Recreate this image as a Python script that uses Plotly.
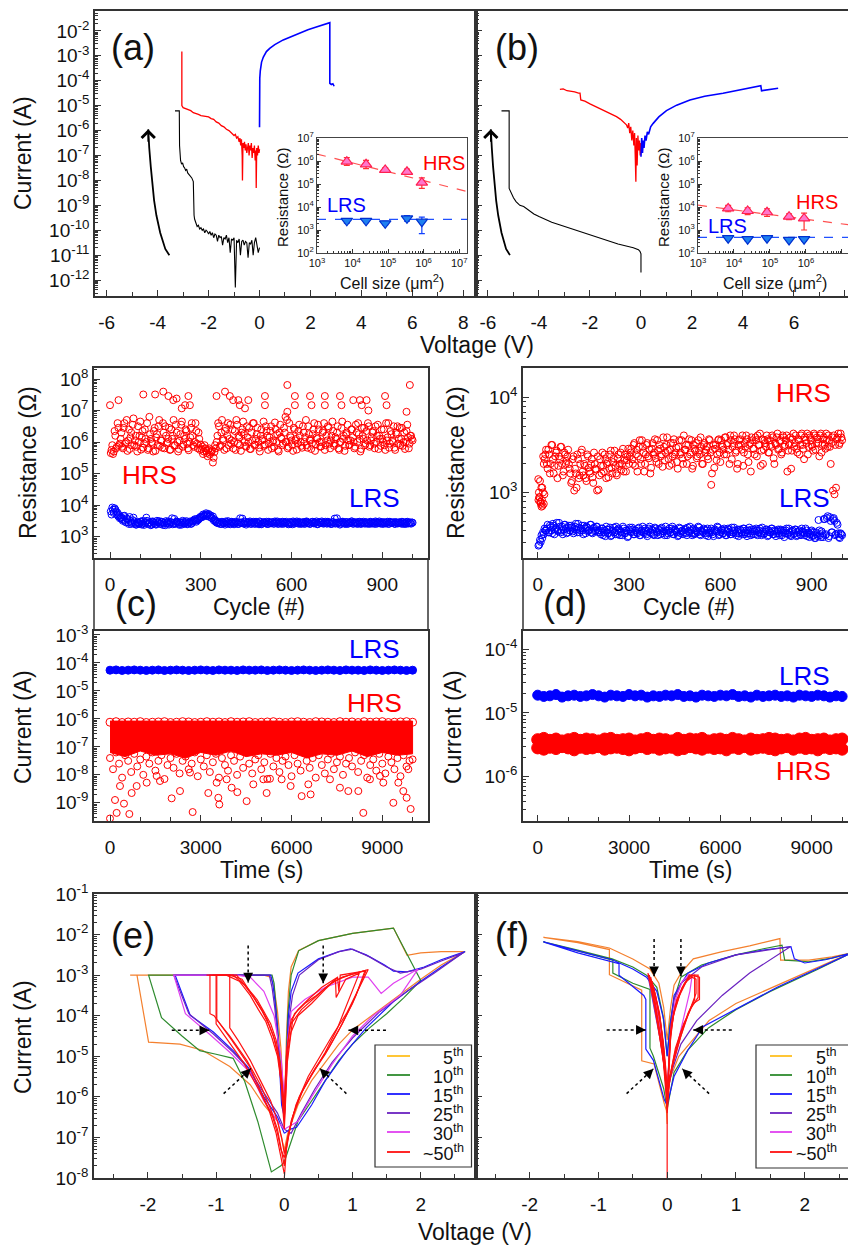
import numpy as np
import plotly.graph_objects as go

W, H = 848, 1245
FONT = "Liberation Sans, Arial, Helvetica, sans-serif"

# ---------------- DATA ----------------
# (a) I-V, (V, log10 I)
A_black = [(-3.32,-5.21),(-3.15,-5.21),(-3.14,-6.6),(-3.1,-7.2),(-3.06,-7.35),(-3.02,-7.3),(-2.98,-7.45),(-2.94,-7.5),
           (-2.9,-7.6),(-2.86,-7.55),(-2.82,-7.7),(-2.78,-7.75),(-2.74,-7.8),(-2.7,-7.85),(-2.66,-7.9),(-2.62,-8.0),
           (-2.6,-8.05),(-2.57,-9.4),(-2.55,-9.55),(-2.5,-9.7),(-2.45,-9.85),(-2.4,-9.8),(-2.35,-9.95),(-2.3,-9.9),
           (-2.25,-10.0),(-2.2,-9.95),(-2.15,-10.1),(-2.1,-10.0),(-2.05,-10.05),(-2.0,-10.15),(-1.95,-10.05),(-1.9,-10.2),
           (-1.85,-10.1),(-1.8,-10.3),(-1.75,-10.15),(-1.7,-10.2),(-1.65,-10.45),(-1.6,-10.2),(-1.55,-10.3),(-1.5,-10.25),
           (-1.45,-10.6),(-1.4,-10.3),(-1.35,-10.35),(-1.3,-10.2),(-1.25,-10.5),(-1.2,-10.3),(-1.15,-10.9),(-1.1,-10.35),
           (-1.05,-10.4),(-1.0,-10.3),(-0.95,-12.3),(-0.9,-10.4),(-0.85,-10.5),(-0.8,-10.35),(-0.75,-11.0),(-0.7,-10.45),
           (-0.65,-10.4),(-0.6,-10.6),(-0.55,-10.45),(-0.5,-10.5),(-0.45,-11.1),(-0.4,-10.5),(-0.35,-10.55),(-0.3,-10.4),
           (-0.25,-11.0),(-0.2,-10.5),(-0.15,-10.3),(-0.1,-10.6),(-0.05,-10.9),(0.0,-10.7)]
A_red = [(-3.05,-2.83),(-3.05,-5.0),(-3.0,-5.08),(-2.9,-5.12),(-2.8,-5.15),(-2.7,-5.2),(-2.6,-5.28),(-2.5,-5.3),
         (-2.4,-5.35),(-2.3,-5.4),(-2.2,-5.42),(-2.1,-5.45),(-2.0,-5.45),(-1.9,-5.52),(-1.8,-5.55),(-1.7,-5.65),
         (-1.6,-5.7),(-1.5,-5.8),(-1.4,-5.85),(-1.3,-5.95),(-1.2,-6.0),(-1.1,-6.1),(-1.0,-6.2),(-0.95,-6.15),
         (-0.9,-6.3),(-0.85,-6.25),(-0.8,-6.45),(-0.77,-6.3),(-0.74,-6.6),(-0.71,-6.35),(-0.68,-7.0),(-0.67,-8.0),
         (-0.65,-6.5),(-0.62,-6.7),(-0.59,-6.45),(-0.56,-6.8),(-0.53,-6.55),(-0.5,-6.9),(-0.47,-6.6),(-0.44,-6.5),
         (-0.41,-7.0),(-0.38,-6.6),(-0.35,-6.8),(-0.32,-6.5),(-0.29,-7.1),(-0.26,-6.7),(-0.23,-6.9),(-0.2,-6.6),
         (-0.17,-7.2),(-0.14,-6.8),(-0.13,-8.3),(-0.11,-6.7),(-0.08,-7.0),(-0.05,-6.6),(-0.02,-6.9),(0.0,-6.75)]
A_blue = [(0.0,-5.87),(0.0,-4.6),(0.01,-3.9),(0.03,-3.6),(0.08,-3.25),(0.15,-3.05),(0.27,-2.83),(0.4,-2.7),
          (0.6,-2.55),(0.93,-2.36),(1.25,-2.22),(1.58,-2.09),(1.9,-1.95),(2.2,-1.85),(2.5,-1.76),(2.76,-1.67),
          (2.76,-4.1),(2.82,-4.15),(2.88,-4.12),(2.93,-4.22)]
A_arrow = [(-3.54,-11.0),(-3.7,-10.75),(-3.9,-10.1),(-4.05,-9.4),(-4.14,-8.8),(-4.22,-8.1),(-4.27,-7.45),(-4.33,-6.7),(-4.37,-5.95)]

# (b) I-V
B_black = [(-5.47,-5.21),(-5.17,-5.21),(-5.17,-8.32),(-5.1,-8.5),(-5.0,-8.7),(-4.9,-8.85),(-4.75,-9.0),(-4.6,-9.05),
           (-4.4,-9.2),(-4.2,-9.35),(-4.0,-9.45),(-3.8,-9.55),(-3.5,-9.68),(-3.2,-9.78),(-3.0,-9.85),(-2.7,-9.95),
           (-2.4,-10.05),(-2.13,-10.13),(-1.8,-10.25),(-1.5,-10.35),(-1.2,-10.45),(-0.9,-10.55),(-0.6,-10.62),
           (-0.3,-10.7),(-0.1,-10.78),(-0.04,-10.85),(0.0,-10.95),(0.0,-11.7)]
B_red = [(-3.18,-4.35),(-3.05,-4.33),(-2.9,-4.4),(-2.75,-4.42),(-2.6,-4.45),(-2.45,-4.5),(-2.39,-4.5),(-2.36,-4.77),
         (-2.2,-4.82),(-2.0,-4.93),(-1.74,-5.06),(-1.5,-5.17),(-1.2,-5.3),(-0.96,-5.44),(-0.8,-5.55),(-0.65,-5.68),
         (-0.57,-5.77),(-0.52,-5.9),(-0.48,-5.7),(-0.44,-6.1),(-0.4,-5.85),(-0.36,-6.4),(-0.32,-6.0),(-0.28,-6.6),
         (-0.25,-6.1),(-0.22,-7.2),(-0.2,-8.05),(-0.18,-6.3),(-0.15,-7.4),(-0.12,-6.2),(-0.09,-6.8),(-0.06,-6.4),
         (-0.03,-7.0),(0.0,-6.5)]
B_blue = [(0.0,-7.05),(0.03,-6.3),(0.06,-6.9),(0.09,-6.4),(0.12,-6.7),(0.16,-6.2),(0.2,-6.4),(0.25,-6.05),
          (0.3,-6.15),(0.38,-5.85),(0.48,-5.71),(0.7,-5.45),(1.0,-5.2),(1.4,-4.98),(1.92,-4.77),(2.5,-4.62),
          (3.22,-4.5),(3.9,-4.35),(4.4,-4.27),(4.7,-4.2),(4.73,-4.4),(5.0,-4.36),(5.38,-4.3)]
B_arrow = [(-5.14,-11.0),(-5.29,-10.75),(-5.47,-10.1),(-5.6,-9.4),(-5.68,-8.8),(-5.75,-8.1),(-5.8,-7.45),(-5.85,-6.7),(-5.89,-5.95)]

# insets: resistance vs cell size
cell_size = [6.9e3, 2.4e4, 8.3e4, 3.4e5, 8.9e5]
A_HRS_R = [9.4e5, 7.2e5, 4.1e5, 3.4e5, 1.15e5]
A_HRS_ep = [4.5e5, 3.5e5, 1.0e5, 1.0e5, 7.0e4]
A_HRS_em = [3.0e5, 2.5e5, 8.0e4, 8.0e4, 5.0e4]
A_LRS_R = [2.5e3, 2.5e3, 1.95e3, 3.2e3, 2.3e3]
A_LRS_ep = [6e2, 5e2, 4e2, 1.0e3, 1.3e3]
A_LRS_em = [5e2, 4e2, 3e2, 8e2, 1.6e3]
A_fit_x = [1e3, 1.7e7]
A_HRS_fit = [2.0e6, 4.7e4]
A_LRS_fit = [2.9e3, 2.9e3]
B_HRS_R = [8.7e3, 6.7e3, 5.9e3, 3.8e3, 3.2e3]
B_HRS_ep = [3.0e3, 2.5e3, 2.5e3, 1.2e3, 2.2e3]
B_HRS_em = [2.5e3, 2.0e3, 2.0e3, 1.0e3, 2.2e3]
B_LRS_R = [440, 400, 440, 370, 400]
B_LRS_ep = [80, 70, 80, 60, 70]
B_LRS_em = [70, 60, 70, 50, 60]
B_HRS_fit = [1.2e4, 1.65e3]
B_LRS_fit = [480, 480]

# (c) endurance, log10 R (series 1 at cycles 5,10,...; series 2 at 2.5,7.5,...)
C_HRS_R = [5.75,5.62,6.35,5.8,6.6,5.9,
 6.1,5.85,6.45,5.95,6.7,6.05,5.78,6.3,6.55,5.9,6.2,5.7,6.0,6.65,6.15,5.82,6.4,6.0,5.75,6.8,6.1,5.95,6.35,5.72,
 6.25,6.5,5.88,6.05,6.6,5.8,6.2,6.0,6.45,5.76,6.1,6.7,5.9,6.3,5.7,6.05,6.55,5.85,6.2,6.4,5.95,5.74,6.15,6.6,
 5.9,6.0,6.35,5.8,6.1,5.92,
 5.85,5.7,5.8,5.65,5.75,5.6,5.7,5.35,5.68,5.8,
 6.2,6.5,5.9,6.7,6.05,6.35,5.8,6.6,6.1,5.95, 6.4,6.0,5.75,6.55,6.2,5.9,6.3,6.65,6.0,5.85,
 6.15,6.45,5.78,6.05,6.6,5.92,6.25,6.0,5.7,6.4, 6.1,5.88,6.5,6.2,5.95,6.35,5.8,6.05,6.62,6.0,
 5.75,6.3,6.15,5.9,6.45,6.0,6.7,5.85,6.2,6.05, 5.72,6.4,6.1,5.95,6.55,6.0,5.82,6.3,6.15,5.9,
 6.5,6.05,5.78,6.25,6.6,5.92,6.1,6.4,5.85,6.0, 6.35,5.75,6.2,6.5,5.95,6.05,6.65,5.88,6.15,6.3,
 5.8,6.0,6.45,6.1,5.72,6.25,6.55,5.9,6.05,6.4, 6.0,5.85,6.3,6.6,6.1,5.78,6.2,6.45,5.95,6.05,
 6.5,5.9,6.15,6.35,5.8,6.0,6.55,6.2,5.88,6.1, 6.4,5.75,6.05,6.6,5.95,6.25,6.0,5.82,6.3,6.5,
 6.1,5.9,6.45,6.0,5.78,6.35,6.15,5.95,6.2,6.05]
C_HRS_R2 = [5.65,5.9,5.7,6.2,5.85,6.45,
 5.95,6.3,5.8,6.6,6.0,5.72,6.4,6.15,5.9,6.75,6.05,5.85,6.5,6.2,5.76,6.35,5.95,6.1,6.6,5.8,6.25,6.0,5.7,6.45,
 6.15,5.9,6.7,6.05,5.82,6.3,6.5,5.95,6.1,5.75,6.4,6.2,5.88,6.55,6.0,5.78,6.25,6.65,5.92,6.1,6.35,5.8,6.0,6.45,
 6.2,5.85,6.6,5.95,6.3,5.75,
 5.78,5.62,5.9,5.72,5.55,5.8,5.66,5.74,5.5,5.9,
 6.0,6.6,5.85,6.3,6.1,5.75,6.45,6.2,5.9,6.55, 6.05,5.8,6.35,6.7,5.95,6.15,5.72,6.4,6.25,5.88,
 6.5,6.0,5.78,6.3,6.6,5.9,6.1,6.45,5.82,6.2, 6.05,6.65,5.92,6.35,5.75,6.15,6.5,6.0,5.85,6.4,
 6.25,5.7,6.55,6.1,5.95,6.3,6.0,5.8,6.6,6.15, 5.9,6.45,6.05,5.76,6.35,6.2,5.88,6.5,6.0,6.7,
 5.82,6.25,6.1,5.95,6.4,5.72,6.15,6.55,6.0,5.86, 6.3,6.6,5.9,6.05,6.45,5.8,6.2,6.35,5.95,6.1,
 6.5,5.75,6.0,6.65,6.2,5.88,6.3,6.05,5.92,6.4, 6.15,5.8,6.55,6.0,6.25,5.7,6.45,6.1,5.9,6.35,
 6.6,5.85,6.05,6.3,5.95,6.5,6.2,5.78,6.1,6.4, 6.0,5.9,6.6,6.15,5.82,6.35,6.05,6.5,5.75,6.25,
 5.95,6.45,6.1,5.88,6.3,6.0,6.55,5.8,6.2,6.1]
C_HRS_out = [(0,7.17),(28,7.33),(110,7.51),(149,7.51),(176,7.6),(193,7.46),(209,7.33),(220,7.38),(237,7.07),
             (248,7.17),(259,7.46),(264,7.17),(352,7.46),(380,7.6),(396,7.46),(407,7.33),(424,7.33),(429,7.17),
             (446,7.07),(457,7.33),(512,7.46),(512,7.17),(586,7.81),(611,7.46),(611,7.17),(661,7.46),(666,7.17),
             (710,7.46),(710,7.17),(760,7.46),(765,7.17),(804,7.33),(826,7.33),(832,7.17),(848,7.33),(854,7.0),
             (909,7.46),(914,7.17),(991,7.81),(980,6.96),(586,6.96),(580,6.8)]
C_LRS_R = [3.7,3.85,3.9,3.8,3.75,3.68,
 3.6,3.55,3.65,3.5,3.58,3.45,3.62,3.4,3.52,3.48,3.38,3.45,
 3.42,3.47,3.38,3.5,3.44,3.6,3.4,3.46,3.36,3.48,3.43,3.39,3.5,3.45,3.41,3.47,3.37,3.44,3.49,3.42,3.38,
 3.46,3.58,3.43,3.4,3.48,3.44,3.37,3.45,3.5,3.41,3.46,3.39,3.44,3.48,3.42,3.5,3.55,3.47,3.52,3.58,3.6,
 3.62,3.66,3.7,3.65,3.72,3.68,3.6,3.64,3.55,3.5,3.46,
 3.44,3.4,3.47,3.42,3.38,3.45,3.49,3.41,3.46,3.43, 3.39,3.47,3.44,3.4,3.58,3.45,3.42,3.48,3.38,3.44,
 3.46,3.41,3.43,3.47,3.4,3.45,3.42,3.48,3.39,3.44, 3.46,3.42,3.4,3.47,3.43,3.45,3.41,3.48,3.44,3.4,
 3.46,3.43,3.47,3.41,3.45,3.42,3.39,3.46,3.44,3.48, 3.41,3.45,3.43,3.47,3.4,3.44,3.46,3.42,3.48,3.43,
 3.4,3.45,3.47,3.42,3.44,3.39,3.46,3.43,3.48,3.41, 3.45,3.42,3.47,3.44,3.4,3.46,3.43,3.41,3.58,3.45,
 3.38,3.44,3.47,3.42,3.46,3.4,3.45,3.43,3.48,3.41, 3.44,3.46,3.42,3.47,3.4,3.45,3.43,3.46,3.41,3.44,
 3.47,3.42,3.45,3.4,3.46,3.43,3.48,3.41,3.44,3.46, 3.42,3.45,3.4,3.47,3.43,3.44,3.41,3.46,3.42,3.45,
 3.43,3.47,3.4,3.44,3.46,3.42,3.45,3.41,3.44]
C_LRS_R2 = [3.8,3.92,3.75,3.86,3.7,3.64,
 3.58,3.62,3.5,3.66,3.45,3.55,3.4,3.5,3.44,3.6,3.42,3.38,
 3.45,3.4,3.48,3.42,3.37,3.46,3.5,3.41,3.44,3.39,3.47,3.43,3.38,3.45,3.49,3.4,3.46,3.42,3.36,3.44,3.48,
 3.41,3.45,3.39,3.56,3.43,3.47,3.4,3.44,3.38,3.46,3.42,3.49,3.41,3.45,3.4,3.47,3.52,3.5,3.56,3.54,3.62,
 3.64,3.7,3.66,3.74,3.69,3.63,3.67,3.58,3.52,3.48,3.44,
 3.42,3.46,3.4,3.45,3.43,3.48,3.41,3.44,3.39,3.47, 3.44,3.42,3.46,3.4,3.45,3.43,3.57,3.41,3.46,3.42,
 3.44,3.48,3.4,3.45,3.42,3.47,3.43,3.39,3.46,3.41, 3.45,3.43,3.47,3.4,3.44,3.42,3.46,3.41,3.45,3.48,
 3.42,3.44,3.4,3.46,3.43,3.47,3.41,3.45,3.42,3.39, 3.46,3.43,3.48,3.41,3.44,3.42,3.45,3.4,3.47,3.43,
 3.44,3.41,3.46,3.42,3.45,3.48,3.4,3.44,3.43,3.46, 3.42,3.47,3.41,3.45,3.43,3.4,3.46,3.57,3.44,3.42,
 3.45,3.41,3.47,3.43,3.4,3.46,3.42,3.44,3.48,3.41, 3.45,3.43,3.4,3.46,3.42,3.44,3.47,3.41,3.45,3.43,
 3.4,3.46,3.42,3.44,3.48,3.41,3.45,3.43,3.46,3.4, 3.44,3.42,3.47,3.41,3.45,3.43,3.46,3.4,3.44,3.42,
 3.45,3.41,3.46,3.43,3.4,3.47,3.42,3.44,3.45]

# (c) retention, log10 I
C_LRS_I = [-4.26,-4.25,-4.27,-4.26,-4.25,-4.26,-4.27,-4.26,-4.25,-4.27,-4.26,-4.25,-4.26,-4.27,-4.26,-4.25,-4.26,
 -4.27,-4.25,-4.26,-4.26,-4.27,-4.25,-4.26,-4.26,-4.25,-4.27,-4.26,-4.25,-4.26,-4.27,-4.26,-4.25,-4.26,-4.27,
 -4.26,-4.25,-4.26,-4.27,-4.25,-4.26,-4.26,-4.27,-4.25,-4.26,-4.27,-4.26,-4.25,-4.26,-4.27,-4.26]
C_env_t = [0,500,1000,1500,2000,2500,3000,3500,4000,4500,5000,5500,6000,6500,7000,7500,8000,8500,9000,9500,10000]
C_HRS_top = [-6.08,-6.09,-6.08,-6.08,-6.09,-6.08,-6.08,-6.09,-6.08,-6.08,-6.09,-6.08,-6.08,-6.09,-6.08,-6.08,-6.09,
 -6.08,-6.08,-6.09,-6.08]
C_HRS_bot = [-7.2,-7.35,-7.15,-7.3,-7.25,-7.4,-7.2,-7.3,-7.15,-7.35,-7.25,-7.3,-7.2,-7.4,-7.25,-7.3,-7.15,-7.35,
 -7.2,-7.3,-7.25]
C_HRS_edge = [-6.12,-6.1,-6.13,-6.11,-6.12,-6.1,-6.13,-6.12,-6.11,-6.1,-6.13,-6.12,-6.1,-6.11,-6.13,-6.12,-6.1,-6.12,
 -6.11,-6.13,-6.1,-6.12,-6.11,-6.1,-6.13,-6.12,-6.11,-6.1,-6.12,-6.13,-6.11,-6.1,-6.12,-6.13,-6.1,-6.11,-6.12,
 -6.13,-6.1,-6.12,-6.11,-6.13,-6.1,-6.12,-6.11,-6.1,-6.13,-6.12,-6.11,-6.1,-6.12]
C_HRS_low = [-7.4,-7.8,-7.2,-7.6,-8.1,-7.3,-7.5,-7.9,-7.25,-7.7, -7.45,-8.0,-7.35,-7.6,-7.2,-7.85,-7.5,-7.3,-8.15,-7.65,
 -7.4,-7.75,-7.25,-7.95,-7.5,-7.35,-7.8,-7.6,-7.2,-8.05, -7.45,-7.7,-7.3,-7.9,-7.55,-7.25,-8.1,-7.4,-7.65,-7.85,
 -7.3,-7.5,-8.0,-7.35,-7.75,-7.2,-7.6,-7.95,-7.45,-7.3, -7.8,-7.55,-8.15,-7.25,-7.7,-7.4,-7.9,-7.5,-7.35,-7.65,
 -8.05,-7.3,-7.6,-7.85,-7.2,-7.5,-7.75,-7.4,-8.1,-7.3, -7.65,-7.95,-7.45,-7.25,-7.8,-7.55,-7.35,-8.0,-7.6,-7.4,
 -7.7,-7.2,-7.9,-7.5,-7.3,-8.1,-7.65,-7.45,-7.85,-7.25, -7.6,-7.95,-7.35,-7.55,-7.8,-7.4,-8.05,-7.3,-7.7,-7.5,-7.45]
C_HRS_rare = [(0,-9.56),(220,-9.36),(165,-8.9),(462,-9.03),(639,-9.4),(716,-8.65),(881,-8.4),(330,-8.4),(1212,-8.28),
 (1542,-8.04),(1652,-8.22),(2038,-8.84),(2313,-8.58),(2731,-9.33),(2643,-7.92),(3249,-8.65),(3525,-8.28),
 (3580,-8.82),(3613,-9.06),(3855,-8.16),(4020,-8.46),(4208,-8.62),(4516,-8.94),(4736,-8.34),(5067,-8.16),
 (5177,-8.65),(5287,-8.14),(5673,-8.16),(5970,-8.4),(6334,-8.76),(6554,-8.34),(6631,-8.7),(7270,-8.16),
 (7600,-8.46),(7876,-8.58),(8207,-8.58),(8372,-9.36),(8592,-8.16),(8923,-8.04),(9033,-8.28),(9364,-9.0),
 (9694,-8.58),(9804,-8.82),(9937,-9.22),(9529,-8.28),(9860,-7.8)]

# (d) endurance, log10 R
D_HRS_R = [2.95,2.9,3.05,2.88,
 3.4,3.3,3.45,3.2,3.5,3.35,3.28,3.42,3.15,3.38,3.48,3.3,3.22,3.4,3.33,3.45,
 3.25,3.1,3.35,3.02,3.2,3.4,3.15,3.3,3.45,3.18,3.28,3.12,3.38,3.22,3.3,3.16,3.42,3.25,3.02,3.03,
 3.35,3.2,3.28,3.4,3.15,3.32,3.25,3.44,3.2,3.36,3.28,3.18,3.4,3.3,3.24,3.46,3.34,3.22,3.38,3.3,
 3.42,3.35,3.5,3.28,3.45,3.38,3.55,3.3,3.48,3.22,3.4,3.52,3.36,3.2,3.46,3.4,3.56,3.32,3.44,3.5,
 3.38,3.27,3.48,3.42,3.58,3.35,3.45,3.3,3.52,3.4,3.47,3.25,3.55,3.42,3.36,3.6,3.45,3.3,3.5,3.4,
 3.55,3.28,3.46,3.52,3.38,3.44,3.58,3.3,3.5,3.42,3.48,3.35,3.55,3.08,3.45,3.26,3.5,3.4,3.56,3.32,
 3.5,3.45,3.58,3.4,3.52,3.3,3.55,3.48,3.6,3.42,3.25,3.5,3.56,3.45,3.28,3.52,3.6,3.4,3.5,3.22,
 3.55,3.46,3.58,3.38,3.5,3.62,3.44,3.3,3.55,3.48,3.56,3.42,3.5,3.6,3.36,3.52,3.58,3.45,3.54,3.4,
 3.6,3.48,3.55,3.22,3.5,3.58,3.44,3.62,3.52,3.46,3.56,3.4,3.6,3.5,3.35,3.55,3.62,3.48,3.58,3.5,
 3.44,3.6,3.52,3.56,3.38,3.62,3.5,3.58,3.46,3.55,3.6,3.48,3.52,3.02,2.98,3.05,3.58,3.5,3.62,3.55]
D_HRS_R2 = [2.92,3.12,2.85,3.0,
 3.35,3.45,3.25,3.4,3.3,3.5,3.2,3.38,3.44,3.28,3.35,3.48,3.18,3.42,3.3,3.38,
 3.3,3.2,3.12,3.38,3.25,3.05,3.35,3.18,3.42,3.22,3.3,3.15,3.4,3.26,3.2,3.35,3.1,3.3,3.24,3.38,
 3.18,3.28,3.42,3.22,3.35,3.3,3.16,3.4,3.26,3.32,3.44,3.2,3.36,3.28,3.42,3.3,3.22,3.4,3.34,3.46,
 3.38,3.46,3.3,3.52,3.4,3.22,3.48,3.35,3.55,3.42,3.3,3.5,3.38,3.45,3.26,3.52,3.42,3.36,3.55,3.3,
 3.46,3.4,3.58,3.34,3.5,3.44,3.28,3.52,3.38,3.56,3.42,3.32,3.48,3.4,3.55,3.3,3.45,3.5,3.38,3.56,
 3.42,3.25,3.5,3.44,3.36,3.55,3.4,3.48,3.3,3.52,3.45,3.38,3.56,3.42,3.2,3.5,3.46,3.34,3.55,3.42,
 3.55,3.48,3.4,3.58,3.5,3.45,3.6,3.35,3.52,3.56,3.44,3.3,3.55,3.5,3.6,3.42,3.48,3.56,3.32,3.52,
 3.58,3.46,3.4,3.55,3.6,3.5,3.28,3.56,3.45,3.52,3.6,3.42,3.55,3.48,3.58,3.3,3.5,3.62,3.46,3.55,
 3.42,3.58,3.5,3.6,3.44,3.52,3.25,3.56,3.48,3.6,3.42,3.55,3.5,3.62,3.46,3.58,3.52,3.4,3.6,3.55,
 3.48,3.62,3.45,3.58,3.52,3.6,3.42,3.56,3.5,3.62,3.48,3.55,3.3,3.58,3.6,3.5,3.56,3.62,3.52,3.58]
D_HRS_early = [(2,3.14),(4,3.0),(6,2.95),(8,2.9),(10,2.88),(12,3.05),(14,2.92),(16,2.86),(18,3.38),(20,3.3),(22,2.98)]
D_LRS_R = [2.45,2.48,2.52,2.56,2.6,
 2.62,2.58,2.65,2.6,2.67,2.56,2.63,2.6,2.68,2.58,2.64,2.61,2.66,2.57,2.63,2.6,2.65,2.59,2.62,2.67,
 2.58,2.63,2.6,2.65,2.56,2.62,2.64,2.59,2.61,2.66,2.57,2.63,2.6,2.64,2.58,
 2.58,2.62,2.55,2.6,2.64,2.57,2.61,2.54,2.59,2.63, 2.56,2.6,2.62,2.55,2.58,2.64,2.57,2.6,2.53,2.61,
 2.59,2.63,2.56,2.6,2.58,2.62,2.55,2.59,2.64,2.57, 2.6,2.54,2.62,2.58,2.61,2.56,2.63,2.59,2.55,2.6,
 2.62,2.57,2.59,2.64,2.55,2.6,2.58,2.62,2.56,2.61, 2.59,2.54,2.63,2.57,2.6,2.58,2.62,2.55,2.59,2.64,
 2.57,2.61,2.56,2.6,2.58,2.63,2.55,2.59,2.62,2.57, 2.6,2.54,2.58,2.62,2.56,2.6,2.59,2.64,2.55,2.58,
 2.61,2.57,2.6,2.55,2.62,2.58,2.56,2.6,2.63,2.57, 2.59,2.54,2.61,2.58,2.62,2.56,2.6,2.57,2.63,2.55,
 2.59,2.61,2.56,2.6,2.58,2.62,2.55,2.59,2.57,2.61, 2.54,2.6,2.58,2.62,2.56,2.59,2.57,2.61,2.55,2.6,
 2.58,2.53,2.6,2.57,2.62,2.55,2.59,2.56,2.61,2.54, 2.58,2.6,2.55,2.59,2.57,2.62,2.54,2.58,2.56,2.6,
 2.55,2.52,2.58,2.54,2.6,2.53,2.57,2.72,2.55,2.73,2.52,2.74,2.58,2.72,2.7,2.56,2.66,2.53,2.57,2.55]
D_LRS_R2 = [2.44,2.5,2.55,2.58,2.62,
 2.6,2.66,2.58,2.63,2.57,2.65,2.61,2.68,2.59,2.64,2.6,2.56,2.66,2.62,2.58,2.65,2.6,2.63,2.57,2.64,
 2.61,2.67,2.58,2.62,2.6,2.65,2.57,2.63,2.6,2.66,2.58,2.62,2.59,2.64,2.6,
 2.6,2.56,2.62,2.58,2.54,2.61,2.57,2.63,2.55,2.6, 2.58,2.64,2.56,2.61,2.59,2.55,2.62,2.57,2.6,2.54,
 2.63,2.58,2.61,2.56,2.6,2.57,2.63,2.55,2.6,2.58, 2.62,2.56,2.59,2.64,2.57,2.6,2.55,2.62,2.58,2.61,
 2.56,2.63,2.59,2.55,2.6,2.57,2.62,2.58,2.64,2.56, 2.6,2.58,2.55,2.62,2.59,2.56,2.61,2.57,2.63,2.58,
 2.6,2.55,2.62,2.57,2.59,2.64,2.56,2.6,2.58,2.61, 2.55,2.62,2.57,2.6,2.58,2.54,2.61,2.59,2.63,2.56,
 2.6,2.57,2.62,2.55,2.59,2.61,2.56,2.63,2.58,2.6, 2.55,2.61,2.57,2.6,2.56,2.62,2.58,2.54,2.6,2.57,
 2.61,2.56,2.59,2.62,2.55,2.6,2.57,2.63,2.56,2.59, 2.61,2.55,2.58,2.62,2.56,2.6,2.54,2.59,2.57,2.61,
 2.55,2.6,2.57,2.62,2.56,2.58,2.54,2.6,2.57,2.61, 2.55,2.59,2.56,2.62,2.58,2.55,2.6,2.57,2.53,2.59,
 2.54,2.58,2.52,2.56,2.71,2.55,2.59,2.53,2.72,2.56,2.75,2.54,2.7,2.58,2.73,2.55,2.68,2.57,2.52,2.56]

# (d) retention, log10 I every 200 s
D_LRS_I = [-4.72,-4.74,-4.73,-4.71,-4.75,-4.73,-4.72,-4.74,-4.73,-4.71,-4.73,-4.75,-4.72,-4.73,-4.74,-4.71,-4.73,
 -4.72,-4.75,-4.73,-4.74,-4.72,-4.73,-4.71,-4.74,-4.73,-4.75,-4.72,-4.73,-4.74,-4.72,-4.73,-4.71,-4.74,-4.73,
 -4.75,-4.72,-4.74,-4.73,-4.72,-4.74,-4.73,-4.75,-4.72,-4.73,-4.74,-4.72,-4.73,-4.75,-4.73,-4.74]
D_HRS_hi = [-5.42,-5.4,-5.43,-5.41,-5.44,-5.42,-5.4,-5.43,-5.41,-5.42,-5.44,-5.41,-5.4,-5.43,-5.42,-5.41,-5.44,
 -5.42,-5.4,-5.43,-5.41,-5.42,-5.44,-5.4,-5.43,-5.41,-5.42,-5.4,-5.44,-5.42,-5.41,-5.43,-5.4,-5.42,-5.44,
 -5.41,-5.43,-5.42,-5.4,-5.41,-5.43,-5.42,-5.44,-5.41,-5.4,-5.43,-5.42,-5.41,-5.44,-5.42,-5.41]
D_HRS_lo = [-5.55,-5.57,-5.54,-5.56,-5.53,-5.55,-5.58,-5.54,-5.56,-5.55,-5.53,-5.57,-5.55,-5.54,-5.56,-5.58,-5.55,
 -5.53,-5.56,-5.54,-5.57,-5.55,-5.54,-5.58,-5.56,-5.53,-5.55,-5.57,-5.54,-5.56,-5.55,-5.58,-5.54,-5.56,-5.53,
 -5.57,-5.55,-5.54,-5.56,-5.58,-5.55,-5.53,-5.57,-5.54,-5.56,-5.55,-5.58,-5.54,-5.56,-5.55,-5.57]

# (e) multi-cycle I-V, (V, log10 I)
E_5 = [(0,-7.3),(-0.1,-6.6),(-0.3,-6.2),(-0.5,-5.7),(-0.8,-5.25),(-1.2,-4.85),(-1.53,-4.7),(-1.99,-4.65),(-2.16,-3.0),
       (-2.26,-3.0),(-1.5,-3.0),(-0.8,-3.0),(-0.3,-3.0),(-0.2,-3.05),(-0.15,-3.3),(-0.1,-3.9),(-0.05,-4.8),(-0.02,-5.8),
       (0,-6.4),(0.03,-4.6),(0.06,-3.4),(0.1,-2.8),(0.21,-2.39),(0.5,-2.15),(1.0,-1.97),(1.6,-1.84),(1.8,-2.51),
       (2.0,-2.45),(2.3,-2.42),(2.65,-2.42),(2.3,-2.75),(2.0,-3.1),(1.6,-3.6),(1.2,-4.1),(1.0,-4.35),(0.8,-4.7),
       (0.6,-5.15),(0.4,-5.6),(0.2,-6.2),(0.05,-6.9),(0,-7.3)]
E_10 = [(0,-7.6),(-0.05,-7.7),(-0.19,-7.85),(-0.39,-6.6),(-0.58,-5.62),(-0.75,-5.05),(-1.0,-4.95),(-1.24,-4.86),
        (-1.5,-4.5),(-1.8,-4.05),(-1.99,-3.0),(-1.5,-3.0),(-1.0,-3.0),(-0.5,-3.0),(-0.18,-3.0),(-0.15,-3.2),
        (-0.12,-3.8),(-0.08,-4.6),(-0.04,-5.5),(0,-6.5),(0.05,-4.0),(0.1,-3.0),(0.21,-2.4),(0.5,-2.15),(1.0,-1.97),
        (1.6,-1.84),(2.0,-3.13),(1.75,-3.56),(1.5,-3.95),(1.25,-4.3),(1.0,-4.7),(0.8,-5.1),(0.6,-5.6),(0.4,-6.1),
        (0.2,-6.6),(0,-7.6)]
E_15 = [(0,-6.9),(-0.1,-6.5),(-0.3,-6.0),(-0.53,-5.27),(-0.75,-4.86),(-1.04,-4.4),(-1.38,-3.99),(-1.6,-3.0),
        (-1.2,-3.0),(-0.6,-3.0),(-0.2,-3.0),(-0.17,-3.2),(-0.14,-3.6),(-0.1,-4.3),(-0.07,-5.4),(-0.04,-6.2),(0,-6.5),
        (0.03,-5.0),(0.06,-4.0),(0.1,-3.4),(0.2,-2.95),(0.5,-2.6),(0.8,-2.42),(0.97,-2.35),(1.2,-2.5),(1.47,-2.75),
        (1.6,-2.9),(1.8,-2.92),(2.05,-2.8),(2.3,-2.62),(2.65,-2.42),(2.3,-2.8),(2.0,-3.15),(1.6,-3.65),(1.2,-4.3),
        (0.9,-4.9),(0.6,-5.6),(0.4,-6.2),(0.18,-6.75),(0.08,-6.8),(0,-6.9)]
E_25 = [(0,-6.8),(-0.1,-6.4),(-0.3,-5.9),(-0.53,-5.3),(-0.75,-4.9),(-1.04,-4.45),(-1.4,-3.95),(-1.62,-3.0),
        (-1.2,-3.0),(-0.6,-3.0),(-0.22,-3.0),(-0.18,-3.3),(-0.14,-3.8),(-0.1,-4.5),(-0.06,-5.5),(-0.03,-6.1),(0,-6.4),
        (0.03,-5.2),(0.07,-4.1),(0.12,-3.5),(0.22,-3.0),(0.5,-2.62),(0.8,-2.42),(1.0,-2.36),(1.25,-2.55),(1.5,-2.8),
        (1.7,-2.95),(2.0,-2.85),(2.3,-2.65),(2.62,-2.45),(2.2,-2.95),(1.8,-3.4),(1.4,-3.9),(1.0,-4.55),(0.7,-5.15),
        (0.45,-5.8),(0.25,-6.4),(0.1,-6.9),(0,-6.8)]
E_30 = [(0,-6.8),(-0.1,-6.6),(-0.3,-6.1),(-0.5,-5.4),(-0.8,-4.9),(-1.1,-4.45),(-1.45,-3.95),(-1.62,-3.0),(-1.2,-3.0),
        (-0.7,-3.0),(-0.5,-3.05),(-0.3,-3.4),(-0.15,-4.0),(-0.05,-5.0),(0,-6.0),(0.05,-4.6),(0.1,-3.9),(0.3,-3.6),
        (0.6,-3.3),(1.0,-3.05),(1.23,-3.05),(1.42,-3.45),(1.6,-3.2),(1.96,-2.85),(1.7,-3.5),(1.3,-4.0),(1.0,-4.5),
        (0.7,-5.2),(0.4,-6.0),(0.2,-6.6),(0,-6.8)]
E_50a = [(0,-7.5),(-0.05,-7.3),(-0.1,-6.9),(-0.17,-6.5),(-0.31,-6.0),(-0.51,-5.25),(-0.77,-4.6),(-1.03,-4.0),
         (-1.09,-3.95),(-1.09,-3.0),(-1.14,-3.0),(-0.9,-3.0),(-0.7,-3.0),(-0.55,-3.3),(-0.4,-3.6),(-0.3,-3.9),
         (-0.2,-4.2),(-0.12,-4.6),(-0.06,-5.2),(0,-6.2),(0.03,-5.0),(0.08,-4.3),(0.15,-3.95),(0.3,-3.7),(0.47,-3.5),
         (0.72,-3.15),(0.95,-3.0),(1.23,-2.86),(1.1,-3.3),(0.91,-3.95),(0.7,-4.5),(0.52,-5.0),(0.35,-5.5),(0.17,-6.2),
         (0.08,-6.8),(0,-7.5)]
E_50b = [(0,-7.7),(-0.05,-7.2),(-0.1,-6.8),(-0.2,-6.3),(-0.35,-5.7),(-0.55,-5.1),(-0.8,-4.5),(-0.99,-4.1),(-0.99,-3.0),
         (-1.05,-3.0),(-0.8,-3.0),(-0.62,-3.1),(-0.48,-3.45),(-0.35,-3.8),(-0.25,-4.1),(-0.16,-4.5),(-0.09,-5.0),
         (-0.04,-5.7),(0,-6.5),(0.04,-4.8),(0.1,-4.1),(0.2,-3.85),(0.35,-3.6),(0.55,-3.3),(0.78,-3.05),(0.8,-3.4),
         (0.82,-3.0),(1.0,-2.95),(1.18,-2.9),(1.05,-3.5),(0.85,-4.2),(0.65,-4.8),(0.45,-5.3),(0.28,-5.8),(0.14,-6.4),
         (0.05,-7.0),(0,-7.7)]
E_50c = [(0,-7.4),(-0.04,-7.0),(-0.1,-6.6),(-0.2,-6.1),(-0.35,-5.6),(-0.5,-5.1),(-0.68,-4.6),(-0.8,-4.3),(-0.8,-3.0),
         (-1.0,-3.0),(-0.75,-3.0),(-0.58,-3.25),(-0.45,-3.55),(-0.32,-3.9),(-0.22,-4.25),(-0.14,-4.6),(-0.07,-5.1),
         (-0.03,-5.8),(0,-6.6),(0.04,-5.2),(0.1,-4.4),(0.2,-4.0),(0.4,-3.7),(0.6,-3.35),(0.75,-3.1),(0.76,-3.55),
         (0.9,-3.1),(1.1,-2.95),(0.95,-3.6),(0.78,-4.3),(0.6,-4.9),(0.42,-5.4),(0.25,-5.9),(0.12,-6.5),(0.04,-7.1),
         (0,-7.4)]
E_50d = [(0,-7.9),(-0.06,-7.4),(-0.12,-6.9),(-0.22,-6.35),(-0.38,-5.8),(-0.6,-5.15),(-0.85,-4.55),(-1.0,-4.2),
         (-1.0,-3.0),(-1.1,-3.0),(-0.85,-3.0),(-0.66,-3.15),(-0.5,-3.5),(-0.38,-3.85),(-0.27,-4.15),(-0.18,-4.55),
         (-0.1,-5.0),(-0.05,-5.6),(0,-6.8),(0.05,-4.9),(0.12,-4.15),(0.25,-3.85),(0.45,-3.55),(0.65,-3.25),
         (0.85,-3.05),(1.05,-2.95),(1.2,-2.88),(1.0,-3.7),(0.8,-4.35),(0.6,-4.95),(0.4,-5.45),(0.22,-6.0),(0.1,-6.6),
         (0.03,-7.3),(0,-7.9),(0,-8.0)]

# (f) multi-cycle I-V
F_5 = [(0,-6.67),(-0.01,-6.34),(-0.04,-6.18),(-0.19,-5.19),(-0.37,-5.11),(-0.37,-3.37),(-0.84,-2.99),(-0.84,-2.37),
       (-1.3,-2.2),(-1.8,-2.07),(-1.3,-2.17),(-0.84,-2.33),(-0.5,-2.6),(-0.25,-2.85),(-0.12,-3.2),(-0.05,-3.8),
       (0,-4.6),(0.05,-3.8),(0.1,-3.25),(0.2,-2.95),(0.38,-2.6),(0.8,-2.42),(1.2,-2.28),(1.64,-2.1),(1.65,-2.63),
       (1.79,-2.63),(2.06,-2.63),(2.4,-2.55),(2.66,-2.46),(2.0,-2.95),(1.4,-3.4),(1.0,-3.7),(0.61,-4.12),(0.32,-4.7),
       (0.17,-5.0),(0.03,-5.6),(0,-5.8)]
F_10 = [(0,-6.3),(-0.05,-5.8),(-0.2,-5.0),(-0.25,-4.8),(-0.25,-3.35),(-0.5,-3.2),(-0.79,-2.95),(-0.79,-2.63),
        (-1.3,-2.4),(-1.8,-2.18),(-1.3,-2.38),(-0.8,-2.6),(-0.5,-2.8),(-0.3,-3.0),(-0.15,-3.3),(-0.06,-4.0),(0,-5.0),
        (0.04,-4.2),(0.1,-3.6),(0.2,-3.05),(0.5,-2.75),(1.0,-2.5),(1.4,-2.35),(1.67,-2.26),(1.71,-2.63),(2.06,-2.67),
        (2.4,-2.58),(2.67,-2.46),(2.2,-2.85),(1.5,-3.4),(1.0,-3.85),(0.6,-4.3),(0.3,-4.85),(0.1,-5.4),(0,-6.3)]
F_15 = [(0,-6.2),(-0.04,-6.08),(-0.2,-5.1),(-0.31,-4.82),(-0.31,-3.6),(-0.34,-3.5),(-0.7,-3.0),(-0.7,-2.72),
        (-1.3,-2.45),(-1.8,-2.18),(-1.3,-2.4),(-0.8,-2.62),(-0.5,-2.85),(-0.3,-3.05),(-0.15,-3.4),(-0.05,-4.1),
        (0,-5.0),(0.04,-4.3),(0.1,-3.5),(0.3,-2.95),(0.6,-2.7),(1.0,-2.5),(1.4,-2.38),(1.8,-2.3),(1.85,-2.6),
        (2.0,-2.7),(2.3,-2.62),(2.67,-2.46),(1.6,-3.3),(0.52,-4.27),(0.3,-4.85),(0.1,-5.5),(0,-6.2)]
F_25 = [(0,-5.9),(-0.05,-5.0),(-0.1,-4.5),(-0.2,-3.5),(-0.28,-3.0),(-0.2,-3.7),(-0.1,-4.6),(-0.03,-5.4),(0,-5.9),
        (0.05,-4.3),(0.1,-3.6),(0.2,-3.2),(0.5,-2.8),(1.0,-2.5),(1.4,-2.4),(1.79,-2.3),(1.2,-2.95),(0.8,-3.5),
        (0.43,-4.12),(0.2,-4.7),(0.08,-5.3),(0,-5.9)]
F_30 = [(0,-5.9),(-0.06,-4.8),(-0.12,-4.1),(-0.2,-3.45),(-0.27,-3.0),(-0.18,-3.8),(-0.08,-4.7),(0,-5.9),(0.05,-4.4),
        (0.12,-3.6),(0.22,-3.15),(0.32,-2.98),(0.36,-3.05),(0.33,-3.4),(0.25,-4.0),(0.12,-4.9),(0.04,-5.5),(0,-5.9)]
F_50a = [(0,-6.2),(-0.04,-5.0),(-0.1,-4.1),(-0.17,-3.5),(-0.26,-3.0),(-0.2,-3.6),(-0.12,-4.3),(-0.06,-5.0),(0,-6.0),
         (0.04,-4.6),(0.1,-3.9),(0.2,-3.4),(0.32,-3.0),(0.45,-3.0),(0.45,-3.55),(0.35,-3.8),(0.2,-4.4),(0.1,-5.0),
         (0.03,-5.6),(0,-6.2)]
F_50b = [(0,-6.0),(-0.03,-5.2),(-0.08,-4.4),(-0.15,-3.7),(-0.24,-3.05),(-0.17,-3.8),(-0.1,-4.6),(-0.04,-5.3),(0,-6.1),
         (0.05,-4.4),(0.12,-3.75),(0.22,-3.3),(0.33,-3.05),(0.4,-3.0),(0.4,-3.6),(0.3,-3.95),(0.18,-4.6),(0.08,-5.2),
         (0.02,-5.8),(0,-6.0)]
F_50c = [(0,-6.4),(-0.05,-4.8),(-0.11,-3.95),(-0.19,-3.35),(-0.28,-2.95),(-0.22,-3.45),(-0.14,-4.1),(-0.07,-4.8),
         (0,-6.3),(0.06,-4.2),(0.14,-3.6),(0.25,-3.2),(0.35,-3.0),(0.47,-3.05),(0.47,-3.6),(0.38,-3.7),(0.24,-4.2),
         (0.12,-4.8),(0.04,-5.5),(0,-6.4)]
F_50d = [(0,-5.8),(-0.02,-5.3),(-0.06,-4.6),(-0.12,-3.9),(-0.22,-3.15),(-0.15,-3.9),(-0.08,-4.7),(-0.03,-5.4),(0,-6.0),
         (0.04,-4.7),(0.09,-4.0),(0.18,-3.5),(0.28,-3.15),(0.36,-3.05),(0.42,-3.1),(0.42,-3.45),(0.32,-3.9),(0.2,-4.5),
         (0.1,-5.1),(0.03,-5.6),(0,-5.8),(0,-6.3),(0,-8.0)]

# dotted guide arrows (tail, tip) in (V, log10 I)
E_arrows = [((-0.53,-2.27),(-0.53,-3.18)),((0.57,-2.27),(0.57,-3.2)),((-1.65,-4.36),(-1.1,-4.36)),
            ((1.49,-4.36),(0.94,-4.36)),((-0.89,-5.92),(-0.49,-5.3)),((0.91,-5.92),(0.52,-5.3))]
F_arrows = [((-0.19,-2.11),(-0.19,-3.03)),((0.2,-2.11),(0.2,-3.03)),((-0.88,-4.35),(-0.31,-4.35)),
            ((0.94,-4.35),(0.38,-4.35)),((-0.59,-5.92),(-0.2,-5.31)),((0.61,-5.92),(0.22,-5.31))]

legend_labels = ["5<sup>th</sup>", "10<sup>th</sup>", "15<sup>th</sup>", "25<sup>th</sup>", "30<sup>th</sup>", "~50<sup>th</sup>"]
legend_colors = ["#FFC020", "#2E8B2E", "#1A1AFF", "#6A22C0", "#E040F0", "#FF1010"]
curve_colors = ["#F4802E", "#2E8B2E", "#1A1AFF", "#6A22C0", "#E040F0", "#FF1010"]

# tick labels
V_ab_ticks = [-6, -4, -2, 0, 2, 4, 6, 8]
V_ef_ticks = [-2, -1, 0, 1, 2]
cycle_ticks = [0, 300, 600, 900]
time_ticks = [0, 3000, 6000, 9000]

# ---------------- FIGURE ----------------
fig = go.Figure()

def dxd(a, b): return [a / W, b / W]
def dyd(t, b): return [1 - b / H, 1 - t / H]

def ref(n):
    return ("x" if n == 1 else f"x{n}"), ("y" if n == 1 else f"y{n}")

def line_trace(pairs, n, color, width=1.3, dash=None):
    xr, yr = ref(n)
    v = [p[0] for p in pairs]
    i = [10.0 ** p[1] for p in pairs]
    fig.add_trace(go.Scatter(x=v, y=i, mode="lines", xaxis=xr, yaxis=yr, hoverinfo="skip",
                             line=dict(color=color, width=width, dash=dash)))

def pts(x, logs, n, color, size=7, symbol="circle-open", lw=1.0):
    xr, yr = ref(n)
    fig.add_trace(go.Scatter(x=x, y=[10.0 ** v for v in logs], mode="markers", xaxis=xr, yaxis=yr,
                             hoverinfo="skip",
                             marker=dict(symbol=symbol, size=size, color=color, line=dict(color=color, width=lw))))

# (a)
line_trace(A_black, 1, "#000000", 1.1)
line_trace(A_red, 1, "#FF0000", 1.3)
line_trace(A_blue, 1, "#0000FF", 1.6)
line_trace(A_arrow, 1, "#000000", 1.8)
# (b)
line_trace(B_black, 2, "#000000", 1.1)
line_trace(B_red, 2, "#FF0000", 1.3)
line_trace(B_blue, 2, "#0000FF", 1.6)
line_trace(B_arrow, 2, "#000000", 1.8)

# insets
def inset(n, hrs, hep, hem, lrs, lep, lem, hfit, lfit):
    xr, yr = ref(n)
    fig.add_trace(go.Scatter(x=A_fit_x, y=hfit, mode="lines", xaxis=xr, yaxis=yr, hoverinfo="skip",
                             line=dict(color="#FF5050", width=1.2, dash="dash")))
    fig.add_trace(go.Scatter(x=A_fit_x, y=lfit, mode="lines", xaxis=xr, yaxis=yr, hoverinfo="skip",
                             line=dict(color="#2050FF", width=1.2, dash="dash")))
    fig.add_trace(go.Scatter(x=cell_size, y=hrs, mode="markers", xaxis=xr, yaxis=yr, hoverinfo="skip",
                             error_y=dict(type="data", array=hep, arrayminus=hem, color="#FF3030", thickness=1.2, width=3),
                             marker=dict(symbol="triangle-up", size=10, color="#FF77CC", line=dict(color="#FF2050", width=1.2))))
    fig.add_trace(go.Scatter(x=cell_size, y=lrs, mode="markers", xaxis=xr, yaxis=yr, hoverinfo="skip",
                             error_y=dict(type="data", array=lep, arrayminus=lem, color="#1040FF", thickness=1.2, width=3),
                             marker=dict(symbol="triangle-down", size=10, color="#1E80F0", line=dict(color="#0030D0", width=1.2))))

inset(3, A_HRS_R, A_HRS_ep, A_HRS_em, A_LRS_R, A_LRS_ep, A_LRS_em, A_HRS_fit, A_LRS_fit)
inset(4, B_HRS_R, B_HRS_ep, B_HRS_em, B_LRS_R, B_LRS_ep, B_LRS_em, B_HRS_fit, B_LRS_fit)

# (c) endurance
pts([5 * (k + 1) for k in range(len(C_HRS_R))], C_HRS_R, 5, "#FF0000")
pts([2.5 + 5 * k for k in range(len(C_HRS_R2))], C_HRS_R2, 5, "#FF0000")
pts([p[0] for p in C_HRS_out], [p[1] for p in C_HRS_out], 5, "#FF0000")
pts([5 * (k + 1) for k in range(len(C_LRS_R))], C_LRS_R, 5, "#0000FF")
pts([2.5 + 5 * k for k in range(len(C_LRS_R2))], C_LRS_R2, 5, "#0000FF")

# (c) retention
xr6, yr6 = ref(6)
fig.add_trace(go.Scatter(x=C_env_t + C_env_t[::-1],
                         y=[10.0 ** v for v in C_HRS_top] + [10.0 ** v for v in C_HRS_bot[::-1]],
                         mode="lines", fill="toself", fillcolor="#FF0000", line=dict(color="#FF0000", width=1),
                         xaxis=xr6, yaxis=yr6, hoverinfo="skip"))
pts([200 * k for k in range(len(C_HRS_edge))], C_HRS_edge, 6, "#FF0000", size=8)
pts([100 * k for k in range(len(C_HRS_low))], C_HRS_low, 6, "#FF0000")
pts([p[0] for p in C_HRS_rare], [p[1] for p in C_HRS_rare], 6, "#FF0000")
pts([200 * k for k in range(len(C_LRS_I))], C_LRS_I, 6, "#0000FF", size=8, symbol="circle")

# (d) endurance
pts([5 * (k + 1) for k in range(len(D_HRS_R))], D_HRS_R, 7, "#FF0000")
pts([2.5 + 5 * k for k in range(len(D_HRS_R2))], D_HRS_R2, 7, "#FF0000")
pts([p[0] for p in D_HRS_early], [p[1] for p in D_HRS_early], 7, "#FF0000")
pts([5 * (k + 1) for k in range(len(D_LRS_R))], D_LRS_R, 7, "#0000FF")
pts([2.5 + 5 * k for k in range(len(D_LRS_R2))], D_LRS_R2, 7, "#0000FF")

# (d) retention
pts([200 * k for k in range(len(D_LRS_I))], D_LRS_I, 8, "#0000FF", size=10, symbol="circle")
pts([200 * k for k in range(len(D_HRS_hi))], D_HRS_hi, 8, "#FF0000", size=12, symbol="circle")
pts([200 * k for k in range(len(D_HRS_lo))], D_HRS_lo, 8, "#FF0000", size=12, symbol="circle")

# (e)
for curve, col in zip([E_5, E_10, E_15, E_25, E_30], curve_colors[:5]):
    line_trace(curve, 9, col, 1.2)
for curve in [E_50a, E_50b, E_50c, E_50d]:
    line_trace(curve, 9, curve_colors[5], 1.2)
# (f)
for curve, col in zip([F_5, F_10, F_15, F_25, F_30], curve_colors[:5]):
    line_trace(curve, 10, col, 1.2)
for curve in [F_50a, F_50b, F_50c, F_50d]:
    line_trace(curve, 10, curve_colors[5], 1.2)

# dotted guide arrows
def guide_arrows(arrows, n):
    xr, yr = ref(n)
    for (t, h) in arrows:
        line_trace([t, h], n, "#000000", 1.5, "dot")
        dxp = t[0] - h[0]
        dyp = t[1] - h[1]
        ax = 0 if abs(dxp) < 1e-9 else (-7 if dxp < 0 else 7)
        ay = 0 if abs(dyp) < 1e-9 else (7 if dyp < 0 else -7)
        fig.add_annotation(x=h[0], y=h[1], xref=xr, yref=yr, ax=ax, ay=ay, text="", showarrow=True,
                           arrowhead=2, arrowsize=1.3, arrowwidth=1.5, arrowcolor="#000000")

guide_arrows(E_arrows, 9)
guide_arrows(F_arrows, 10)

# forming arrow heads
for arr, n in [(A_arrow, 1), (B_arrow, 2)]:
    xr, yr = ref(n)
    fig.add_annotation(x=arr[-1][0], y=arr[-1][1], xref=xr, yref=yr, ax=0, ay=14, text="", showarrow=True,
                       arrowhead=4, arrowsize=1.6, arrowwidth=1.6, arrowcolor="#000000")

# ---------------- AXES ----------------
AXC = "#333333"
def base_axis(**kw):
    d = dict(showline=True, linecolor=AXC, linewidth=1.5, ticks="inside", ticklen=6, tickwidth=1.2,
             tickcolor=AXC, showgrid=False, zeroline=False, automargin=False,
             tickfont=dict(size=19, family=FONT, color="#111111"))
    d.update(kw)
    return d

def log_ticks(e0, e1):
    vals = [10.0 ** e for e in range(e0, e1 + 1)]
    txt = [f"10<sup>{e}</sup>" for e in range(e0, e1 + 1)]
    minor = [m * 10.0 ** e for e in range(e0 - 1, e1 + 1) for m in range(2, 10)]
    return vals, txt, minor

def log_axis(dom, rng, e0, e1, anchor, labels=True, mirror=True, fsize=19, tl=6, mtl=3):
    vals, txt, minor = log_ticks(e0, e1)
    return base_axis(domain=dom, type="log", range=rng, tickmode="array", tickvals=vals, ticktext=txt,
                     showticklabels=labels, anchor=anchor, mirror=mirror, ticklen=tl,
                     tickfont=dict(size=fsize, family=FONT, color="#111111"),
                     minor=dict(tickmode="array", tickvals=minor, ticks="inside", ticklen=mtl,
                                tickcolor=AXC, showgrid=False))

def lin_axis(dom, rng, tvals, mdtick, anchor, mirror=True, labels=True):
    return base_axis(domain=dom, range=rng, tickmode="array", tickvals=tvals, ticktext=[str(v) for v in tvals],
                     anchor=anchor, mirror=mirror, showticklabels=labels, ticklabelstandoff=8,
                     minor=dict(tickmode="linear", dtick=mdtick, tick0=0, ticks="inside", ticklen=4,
                                tickcolor=AXC, showgrid=False))

lay = {}
lay["xaxis"] = lin_axis(dxd(95, 476), [-6.46, 8.5], V_ab_ticks, 1, "y")
lay["yaxis"] = log_axis(dyd(11, 296), [-12.64, -1.2], -12, -2, "x")
lay["xaxis2"] = lin_axis(dxd(476, 848), [-6.47, 8.12], V_ab_ticks, 1, "y2")
lay["yaxis2"] = log_axis(dyd(11, 296), [-12.64, -1.2], -12, -2, "x2", labels=False, mirror=False)
# insets
for key, dom, rng, e0, e1, anc, mir in [("xaxis3", dxd(317, 467), [3, 7.22], 3, 7, "y3", True),
                                         ("yaxis3", dyd(138, 253), [2, 7], 2, 7, "x3", True),
                                         ("xaxis4", dxd(698, 848), [3, 7.17], 3, 7, "y4", True),
                                         ("yaxis4", dyd(138, 253), [2, 7], 2, 7, "x4", False)]:
    a = log_axis(dom, rng, e0, e1, anc, fsize=11, tl=4, mtl=2, mirror=mir)
    a.update(linewidth=1.2, linecolor="#444444")
    lay[key] = a
# (c)
lay["xaxis5"] = lin_axis(dxd(94, 428), [-53, 1051], cycle_ticks, 100, "y5")
lay["yaxis5"] = log_axis(dyd(368, 558), [2.32, 8.35], 3, 8, "x5")
lay["xaxis6"] = lin_axis(dxd(94, 428), [-529, 10510], time_ticks, 1000, "y6")
lay["yaxis6"] = log_axis(dyd(631, 821), [-9.65, -2.86], -9, -3, "x6")
# (d)
lay["xaxis7"] = lin_axis(dxd(523, 848), [-48.3, 1019.3], cycle_ticks, 100, "y7")
lay["yaxis7"] = log_axis(dyd(368, 558), [2.31, 4.31], 3, 4, "x7", mirror=False)
lay["xaxis8"] = lin_axis(dxd(523, 848), [-483, 10193], time_ticks, 1000, "y8")
lay["yaxis8"] = log_axis(dyd(631, 821), [-6.7, -3.71], -6, -4, "x8", mirror=False)
# (e), (f)
lay["xaxis9"] = lin_axis(dxd(94, 476), [-2.79, 2.81], V_ef_ticks, 0.5, "y9")
lay["yaxis9"] = log_axis(dyd(894, 1178), [-8, -1], -8, -1, "x9")
lay["xaxis10"] = lin_axis(dxd(476, 848), [-2.78, 2.63], V_ef_ticks, 0.5, "y10")
lay["yaxis10"] = log_axis(dyd(894, 1178), [-8, -1], -8, -1, "x10", labels=False, mirror=False)

fig.update_layout(width=W, height=H, margin=dict(l=0, r=0, t=0, b=0, pad=0, autoexpand=False), showlegend=False,
                  paper_bgcolor="white", plot_bgcolor="white", font=dict(family=FONT, color="#111111"), **lay)

# ---------------- FRAMES / LEGENDS / TEXT ----------------
def pline(x0, y0, x1, y1, color=AXC, width=1.5):
    fig.add_shape(type="line", xref="paper", yref="paper", x0=x0 / W, y0=1 - y0 / H, x1=x1 / W, y1=1 - y1 / H,
                  line=dict(color=color, width=width))

pline(94, 558, 94, 631)
pline(428, 558, 428, 631)
pline(523, 558, 523, 631)

def legend_box(x0, y0, x1, y1, lx0, lx1, tx, rows):
    fig.add_shape(type="rect", xref="paper", yref="paper", x0=x0 / W, y0=1 - y1 / H, x1=x1 / W, y1=1 - y0 / H,
                  line=dict(color="#333333", width=1.2), fillcolor="white", layer="above")
    for lab, col, ry in zip(legend_labels, legend_colors, rows):
        pline(lx0, ry, lx1, ry, col, 1.8)
        fig.add_annotation(text=lab, x=tx / W, y=1 - ry / H, xref="paper", yref="paper", showarrow=False,
                           xanchor="right", yanchor="middle", font=dict(size=18, family=FONT, color="#111111"))

legend_box(375, 1045, 471.5, 1167, 387, 410, 466, [1056, 1075, 1094, 1113, 1132, 1152])
legend_box(756, 1045, 852, 1168, 770, 792, 839, [1056, 1075, 1094, 1113, 1132, 1152])

def txt(s, x, y, size, color="#111111", angle=0):
    fig.add_annotation(text=s, x=x / W, y=1 - y / H, xref="paper", yref="paper", showarrow=False,
                       font=dict(size=size, color=color, family=FONT), textangle=angle,
                       xanchor="center", yanchor="middle")

RED, BLUE = "#FF0000", "#0000FF"
for s, x, y in [("(a)", 133, 48), ("(b)", 517, 48), ("(c)", 136, 604), ("(d)", 565, 604), ("(e)", 133, 935), ("(f)", 512, 935)]:
    txt(s, x, y, 36)
txt("Current (A)", 23, 153, 23, angle=-90)
txt("Voltage (V)", 477, 345, 23)
txt("Resistance (Ω)", 282, 197, 15, angle=-90)
txt("Cell size (μm<sup>2</sup>)", 392, 282, 16)
txt("HRS", 444, 163, 20, RED)
txt("LRS", 346, 205, 20, BLUE)
txt("Resistance (Ω)", 663, 197, 15, angle=-90)
txt("Cell size (μm<sup>2</sup>)", 775, 282, 16)
txt("HRS", 817, 202, 20, RED)
txt("LRS", 727, 226, 20, BLUE)
txt("Resistance (Ω)", 28, 463, 23, angle=-90)
txt("HRS", 149, 475, 26, RED)
txt("LRS", 374, 498, 26, BLUE)
txt("Cycle (#)", 259, 607, 23)
txt("Current (A)", 23, 727, 23, angle=-90)
txt("LRS", 374, 649, 26, BLUE)
txt("HRS", 374, 703, 26, RED)
txt("Time (s)", 261, 870, 23)
txt("Resistance (Ω)", 456, 463, 23, angle=-90)
txt("HRS", 803, 393, 26, RED)
txt("LRS", 804, 498, 26, BLUE)
txt("Cycle (#)", 689, 607, 23)
txt("Current (A)", 453, 727, 23, angle=-90)
txt("LRS", 804, 676, 26, BLUE)
txt("HRS", 803, 771, 26, RED)
txt("Time (s)", 690, 870, 23)
txt("Current (A)", 23, 1037, 23, angle=-90)
txt("Voltage (V)", 475, 1232, 23)

fig.write_html("out.html", config={"displayModeBar": False},
               post_script="document.body.style.margin='0px';document.body.style.overflow='hidden';"
                           "document.documentElement.style.overflow='hidden';")
